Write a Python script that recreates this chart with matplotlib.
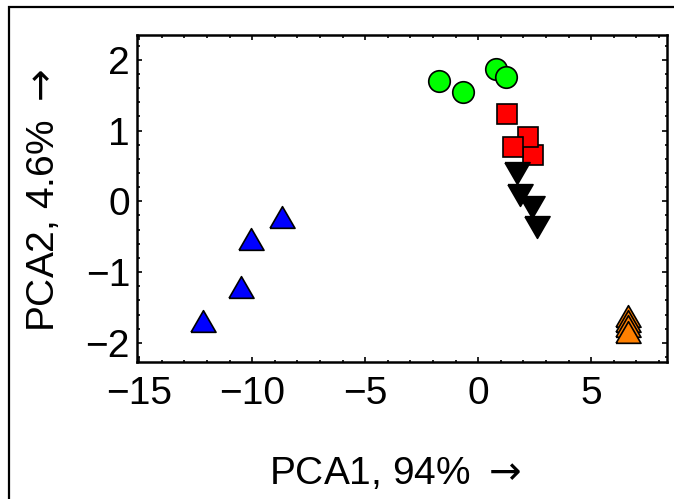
import matplotlib
matplotlib.use("Agg")
import matplotlib.pyplot as plt
from matplotlib.patches import Rectangle
from matplotlib.ticker import MultipleLocator

plt.rcParams['font.family'] = ['Liberation Sans', 'DejaVu Sans']
plt.rcParams['mathtext.fontset'] = 'dejavusans'

# --- PCA scores, one group per marker ---
green_x = [-1.73, -0.66, 0.80, 1.24]
green_y = [1.70, 1.55, 1.87, 1.76]

red_x = [1.28, 2.43, 2.21, 1.55]
red_y = [1.24, 0.66, 0.91, 0.77]

black_x = [1.73, 1.86, 2.39, 2.61]
black_y = [0.40, 0.09, -0.08, -0.36]

blue_x = [-8.67, -10.04, -10.49, -12.17]
blue_y = [-0.22, -0.53, -1.21, -1.69]

orange_x = [6.64, 6.64, 6.64, 6.64]
orange_y = [-1.62, -1.69, -1.76, -1.84]

x_label = r"PCA1, 94% $\rightarrow$"
y_label = r"PCA2, 4.6% $\rightarrow$"

# equilateral triangles (wider than tall, like the original)
tri_up = [(-1, -0.866), (1, -0.866), (0, 0.866), (-1, -0.866)]
tri_down = [(-1, 0.866), (1, 0.866), (0, -0.866), (-1, 0.866)]

fig = plt.figure(figsize=(6.74, 4.99), dpi=100)
ax = fig.add_axes([137 / 674, 1 - 362 / 499, 530 / 674, 327 / 499])

edge = dict(ls="none", mec="black", mew=1.2)
ax.plot(green_x, green_y, marker="o", ms=15.5, mfc=(0, 1, 0), **edge)
ax.plot(red_x, red_y, marker="s", ms=14.5, mfc=(1, 0, 0), **edge)
ax.plot(black_x, black_y, marker=tri_down, ms=18, mfc="black", **edge)
ax.plot(blue_x, blue_y, marker=tri_up, ms=18, mfc=(0, 0, 1), **edge)
ax.plot(orange_x, orange_y, marker=tri_up, ms=18, mfc=(1, 0.5, 0), **edge)

ax.set_xlim(-15.1, 8.36)
ax.set_ylim(-2.27, 2.35)

ax.xaxis.set_major_locator(MultipleLocator(5))
ax.xaxis.set_minor_locator(MultipleLocator(1))
ax.yaxis.set_major_locator(MultipleLocator(1))
ax.yaxis.set_minor_locator(MultipleLocator(0.2))
ax.tick_params(which="both", direction="in", top=True, right=True,
               width=1.2, labelsize=28)
ax.tick_params(which="major", length=3.5)
ax.tick_params(which="minor", length=1.8)
ax.tick_params(axis="x", pad=10)
ax.tick_params(axis="y", pad=5)
for s in ax.spines.values():
    s.set_linewidth(1.8)

fig.text(395 / 674, 1 - 484 / 499, x_label, fontsize=28,
         ha="center", va="baseline")
fig.text(44 / 674, 1 - 201 / 499, y_label, fontsize=28,
         ha="center", va="center", rotation=90)

# outer frame (only left and top edges show in the picture)
frame = Rectangle((9 / 674, -0.2), 2, 1.2 - 7 / 499, transform=fig.transFigure,
                  fill=False, ec="black", lw=1.6, clip_on=False)
fig.patches.append(frame)

fig.savefig("out.png", dpi=100)
